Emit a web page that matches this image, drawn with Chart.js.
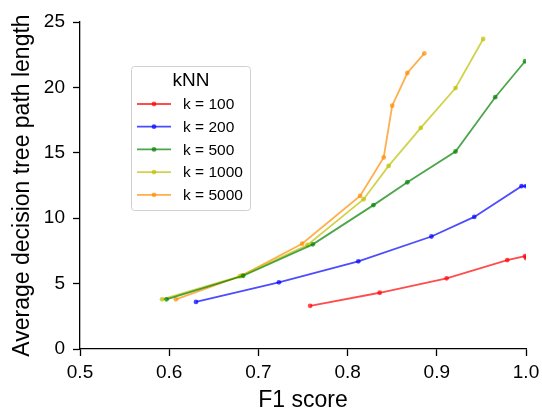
<!DOCTYPE html>
<html>
<head>
<meta charset="utf-8">
<script src="https://cdn.jsdelivr.net/npm/chart.js@4/dist/chart.umd.min.js"></script>
<style>
html,body{margin:0;padding:0;background:#fff;}
#wrap{width:542px;height:409px;position:relative;}
</style>
</head>
<body>
<div id="wrap"><canvas id="c" width="542" height="409"></canvas></div>
<script>
// ---- data ----
const seriesLabels = ["k = 100", "k = 200", "k = 500", "k = 1000", "k = 5000"];
const seriesColors = ["rgba(255,0,0,0.7)", "rgba(0,0,255,0.7)", "rgba(0,128,0,0.7)", "rgba(191,191,0,0.7)", "rgba(255,140,0,0.7)"];
const f1_k100  = [0.758, 0.836, 0.911, 0.979, 0.999, 1.0];
const len_k100 = [3.3, 4.3, 5.4, 6.8, 7.1, 6.95];
const f1_k200  = [0.630, 0.723, 0.812, 0.894, 0.942, 0.995, 1.0];
const len_k200 = [3.6, 5.1, 6.7, 8.6, 10.1, 12.45, 12.45];
const f1_k500  = [0.597, 0.683, 0.761, 0.829, 0.867, 0.921, 0.9655, 0.999];
const len_k500 = [3.8, 5.6, 8.0, 11.0, 12.75, 15.1, 19.25, 22.0];
const f1_k1000  = [0.592, 0.679, 0.755, 0.818, 0.846, 0.882, 0.921, 0.952];
const len_k1000 = [3.8, 5.55, 7.95, 11.45, 14.0, 16.9, 19.95, 23.7];
const f1_k5000  = [0.6075, 0.681, 0.749, 0.814, 0.8405, 0.850, 0.867, 0.886];
const len_k5000 = [3.8, 5.6, 8.05, 11.7, 14.65, 18.6, 21.1, 22.6];
const xTicks = [0.5, 0.6, 0.7, 0.8, 0.9, 1.0];
const yTicks = [0, 5, 10, 15, 20, 25];
const xTitle = "F1 score";
const yTitle = "Average decision tree path length";
const legendTitle = "kNN";

const xs = [f1_k100, f1_k200, f1_k500, f1_k1000, f1_k5000];
const ys = [len_k100, len_k200, len_k500, len_k1000, len_k5000];

const FONT = "'Liberation Sans', Arial, sans-serif";

const datasets = seriesLabels.map((lab, i) => ({
  label: lab,
  data: xs[i].map((x, j) => ({x: x, y: ys[i][j]})),
  showLine: true,
  borderColor: seriesColors[i],
  backgroundColor: seriesColors[i],
  borderWidth: 1.8,
  pointRadius: 2.4,
  pointBorderWidth: 0,
  pointHoverRadius: 2.4,
  tension: 0
}));

const customLegend = {
  id: 'customLegend',
  afterDraw(chart) {
    const ctx = chart.ctx;
    const x0 = 131.5, y0 = 66.5, w = 119, h = 144;
    ctx.save();
    ctx.beginPath();
    const r = 3;
    ctx.moveTo(x0 + r, y0);
    ctx.arcTo(x0 + w, y0, x0 + w, y0 + h, r);
    ctx.arcTo(x0 + w, y0 + h, x0, y0 + h, r);
    ctx.arcTo(x0, y0 + h, x0, y0, r);
    ctx.arcTo(x0, y0, x0 + w, y0, r);
    ctx.closePath();
    ctx.fillStyle = 'rgba(255,255,255,0.8)';
    ctx.fill();
    ctx.strokeStyle = '#d0d0d0';
    ctx.lineWidth = 1;
    ctx.stroke();
    ctx.fillStyle = '#000';
    ctx.font = '19px ' + FONT;
    ctx.textAlign = 'center';
    ctx.textBaseline = 'middle';
    ctx.fillText(legendTitle, 191, 81);
    ctx.font = '15.5px ' + FONT;
    ctx.textAlign = 'left';
    chart.data.datasets.forEach((ds, i) => {
      const yy = 104 + i * 22.7;
      ctx.strokeStyle = ds.borderColor;
      ctx.lineWidth = 1.8;
      ctx.beginPath();
      ctx.moveTo(137, yy);
      ctx.lineTo(171, yy);
      ctx.stroke();
      ctx.fillStyle = ds.backgroundColor;
      ctx.beginPath();
      ctx.arc(154, yy, 2.4, 0, Math.PI * 2);
      ctx.fill();
      ctx.fillStyle = '#000';
      ctx.fillText(ds.label, 183, yy + 1);
    });
    ctx.restore();
  }
};

new Chart(document.getElementById('c'), {
  type: 'scatter',
  data: { datasets: datasets },
  plugins: [customLegend],
  options: {
    responsive: false,
    animation: false,
    devicePixelRatio: 1,
    layout: { padding: { top: 22, right: 16, left: 0, bottom: 0 } },
    plugins: { legend: { display: false }, tooltip: { enabled: false } },
    scales: {
      x: {
        type: 'linear',
        min: 0.5, max: 1.0,
        afterFit(scale) { scale.height = 60; scale.paddingRight = 0; scale.paddingLeft = 0; },
        afterBuildTicks(scale) { scale.ticks = xTicks.map(v => ({value: v})); },
        ticks: {
          color: '#000',
          font: { family: FONT, size: 19 },
          padding: 5,
          maxRotation: 0,
          callback: v => v.toFixed(1)
        },
        grid: { drawOnChartArea: false, drawTicks: true, tickLength: 7, tickWidth: 1.3, color: '#000' },
        border: { display: true, color: '#000', width: 1.3 },
        title: { display: true, text: xTitle, color: '#000', font: { family: FONT, size: 23, lineHeight: 1.0 }, padding: { top: 0, bottom: -3 } }
      },
      y: {
        type: 'linear',
        min: 0, max: 25,
        afterFit(scale) { scale.width = 80; },
        afterBuildTicks(scale) { scale.ticks = yTicks.map(v => ({value: v})); },
        ticks: {
          color: '#000',
          font: { family: FONT, size: 19 },
          padding: 8,
          callback: v => String(v)
        },
        grid: { drawOnChartArea: false, drawTicks: true, tickLength: 7, tickWidth: 1.3, color: '#000' },
        border: { display: true, color: '#000', width: 1.3 },
        title: { display: true, text: yTitle, color: '#000', font: { family: FONT, size: 23, lineHeight: 1.0 }, padding: { top: 11, bottom: 0 } }
      }
    }
  }
});
</script>
</body>
</html>
